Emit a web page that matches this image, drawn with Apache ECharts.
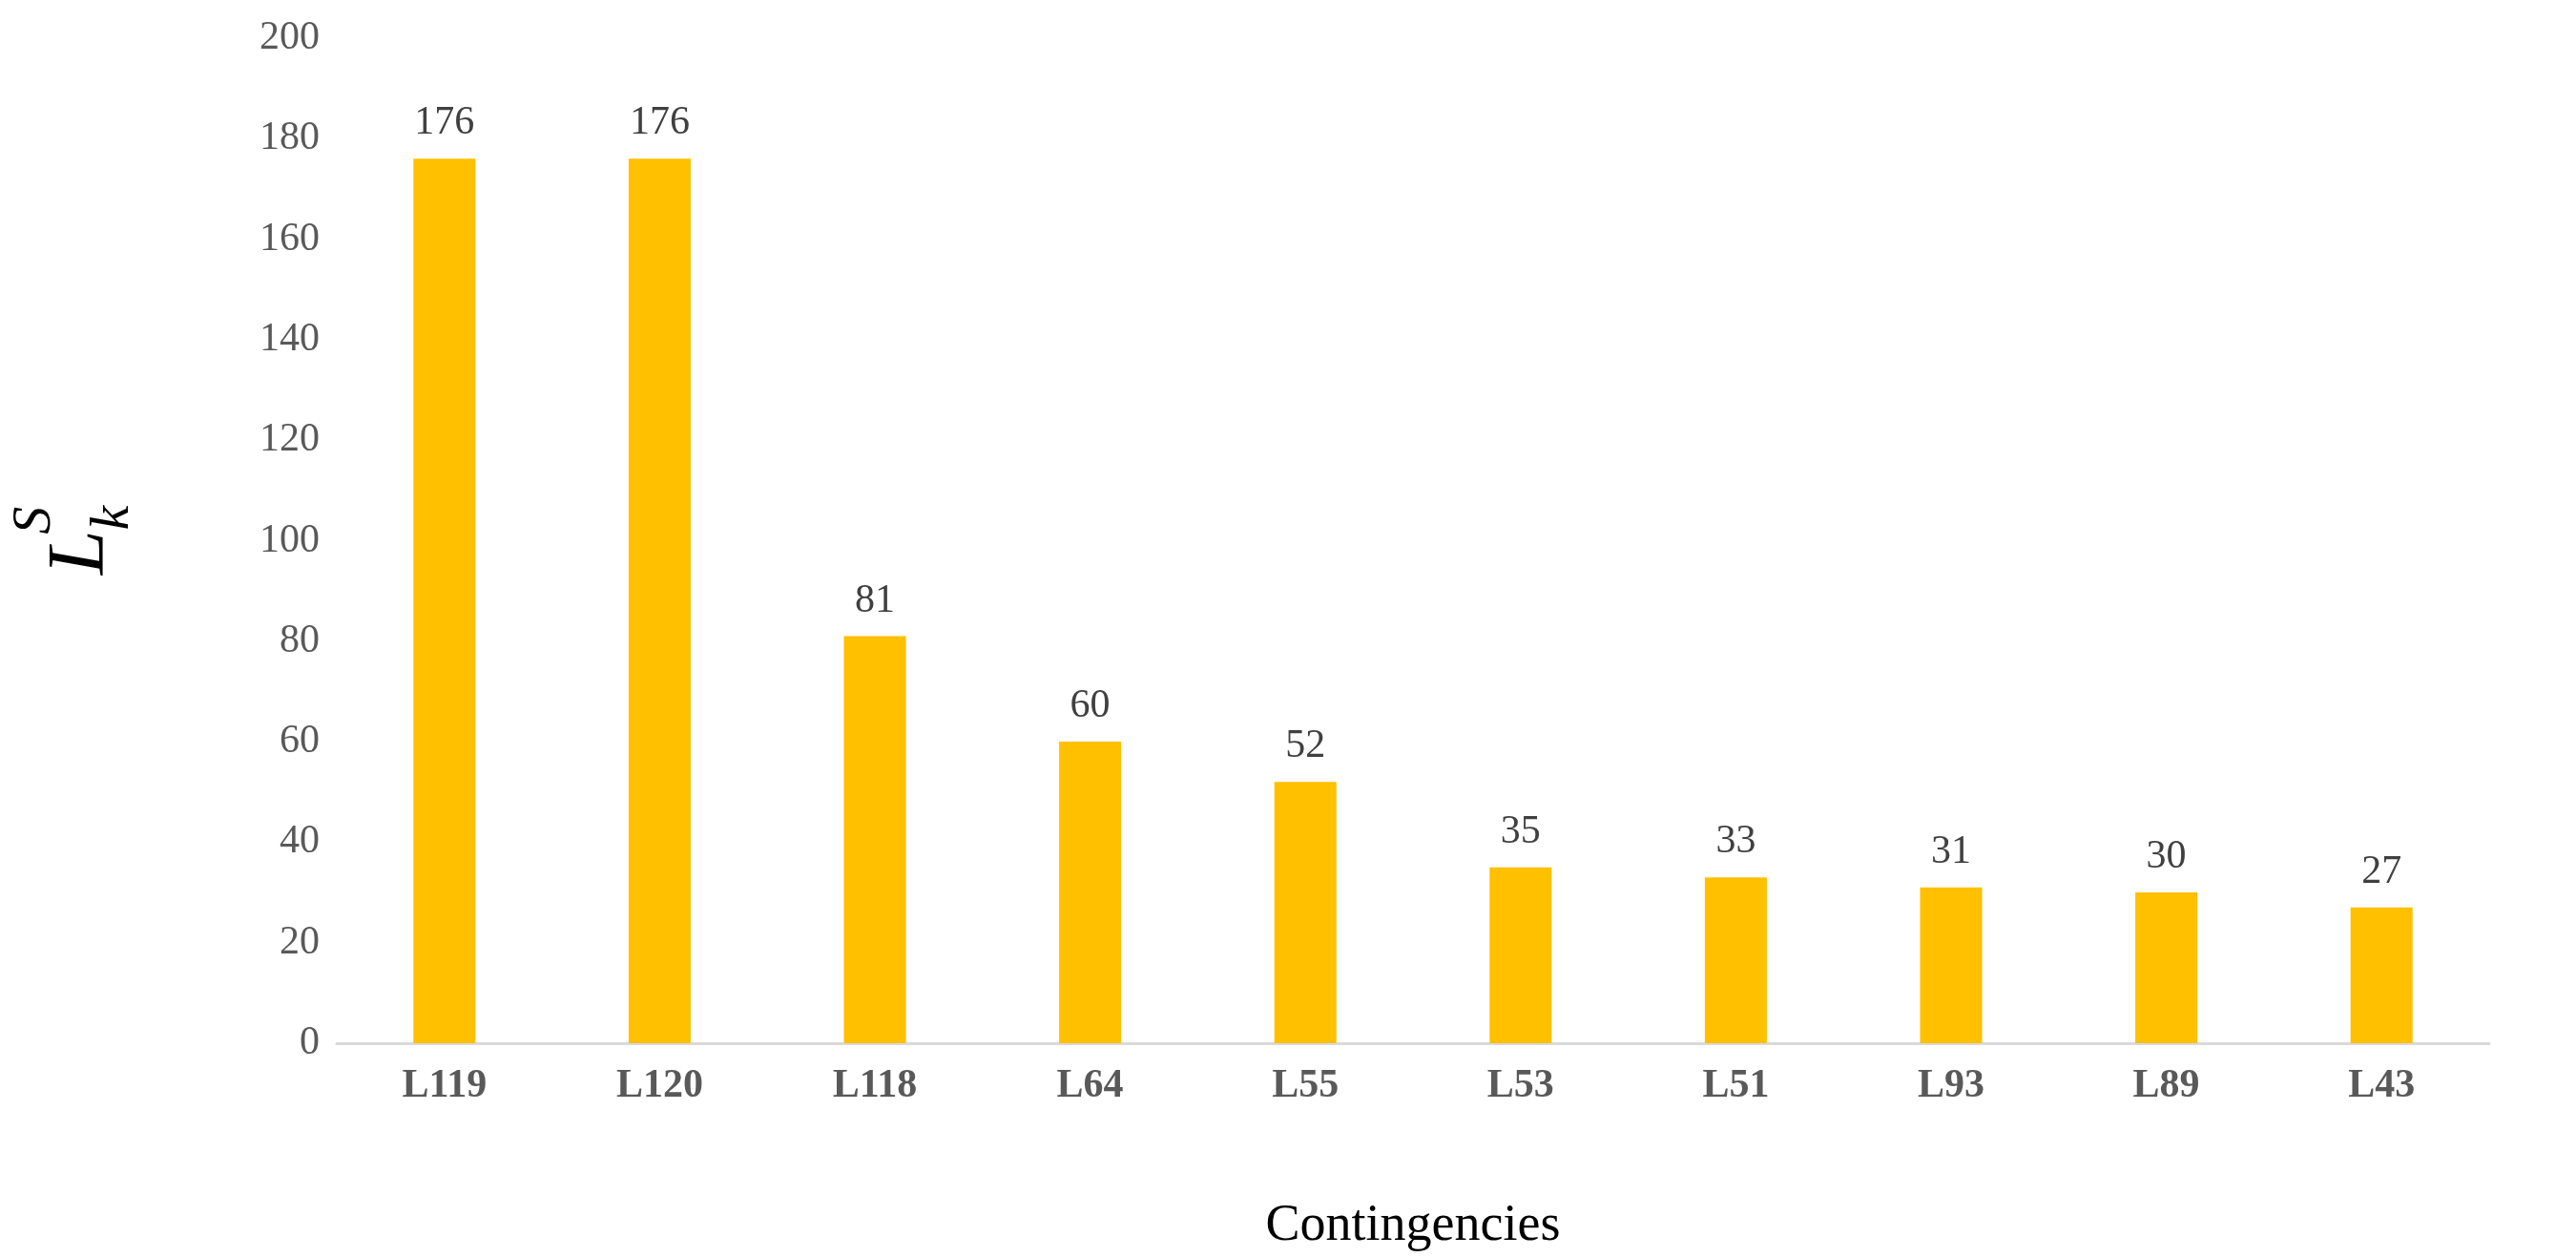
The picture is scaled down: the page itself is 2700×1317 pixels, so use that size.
<!DOCTYPE html>
<html>
<head>
<meta charset="utf-8">
<script src="https://cdn.jsdelivr.net/npm/echarts@6/dist/echarts.min.js"></script>
<style>html,body{margin:0;padding:0;background:#fff}#main{width:2700px;height:1317px}</style>
</head>
<body>
<div id="main"></div>
<script>
// contingencies and their values
const categories = ['L119', 'L120', 'L118', 'L64', 'L55', 'L53', 'L51', 'L93', 'L89', 'L43'];
const values = [176, 176, 81, 60, 52, 35, 33, 31, 30, 27];
const yTicks = [0, 20, 40, 60, 80, 100, 120, 140, 160, 180, 200];

const font = '"Liberation Serif", "Times New Roman", serif';
let myChart = echarts.init(document.getElementById('main'));

let option = {
    animation: false,
    grid: { left: 338, right: 91, top: 40, bottom: 221 },
    xAxis: {
        type: 'category',
        data: categories,
        name: 'Contingencies',
        nameLocation: 'middle',
        nameGap: 165,
        nameTextStyle: { fontFamily: font, fontSize: 54, color: '#000' },
        axisLine: { lineStyle: { color: '#D9D9D9', width: 3 } },
        axisTick: { show: false },
        axisLabel: { fontFamily: font, fontSize: 42, fontWeight: 'bold', color: '#595959', margin: 24 }
    },
    yAxis: {
        type: 'value',
        min: yTicks[0],
        max: yTicks[yTicks.length - 1],
        interval: 20,
        name: '{l|L}{k|k}{s|S}',
        nameLocation: 'middle',
        nameGap: 225,
        nameTextStyle: {
            rich: {
                l: { fontFamily: font, fontStyle: 'italic', fontSize: 84, color: '#000' },
                k: { fontFamily: font, fontStyle: 'italic', fontSize: 58, color: '#000', verticalAlign: 'bottom', padding: [0, 0, -20, 0] },
                s: { fontFamily: font, fontStyle: 'italic', fontSize: 58, color: '#000', verticalAlign: 'top', padding: [-36, 0, 0, -30] }
            }
        },
        axisLine: { show: false },
        axisTick: { show: false },
        splitLine: { show: false },
        axisLabel: { fontFamily: font, fontSize: 42, color: '#595959', margin: 18 }
    },
    series: [{
        type: 'bar',
        data: values,
        barWidth: 65,
        itemStyle: { color: '#FFC000' },
        label: { show: true, position: 'top', distance: 16, fontFamily: font, fontSize: 42, color: '#404040' }
    }]
};
myChart.setOption(option);
</script>
</body>
</html>
